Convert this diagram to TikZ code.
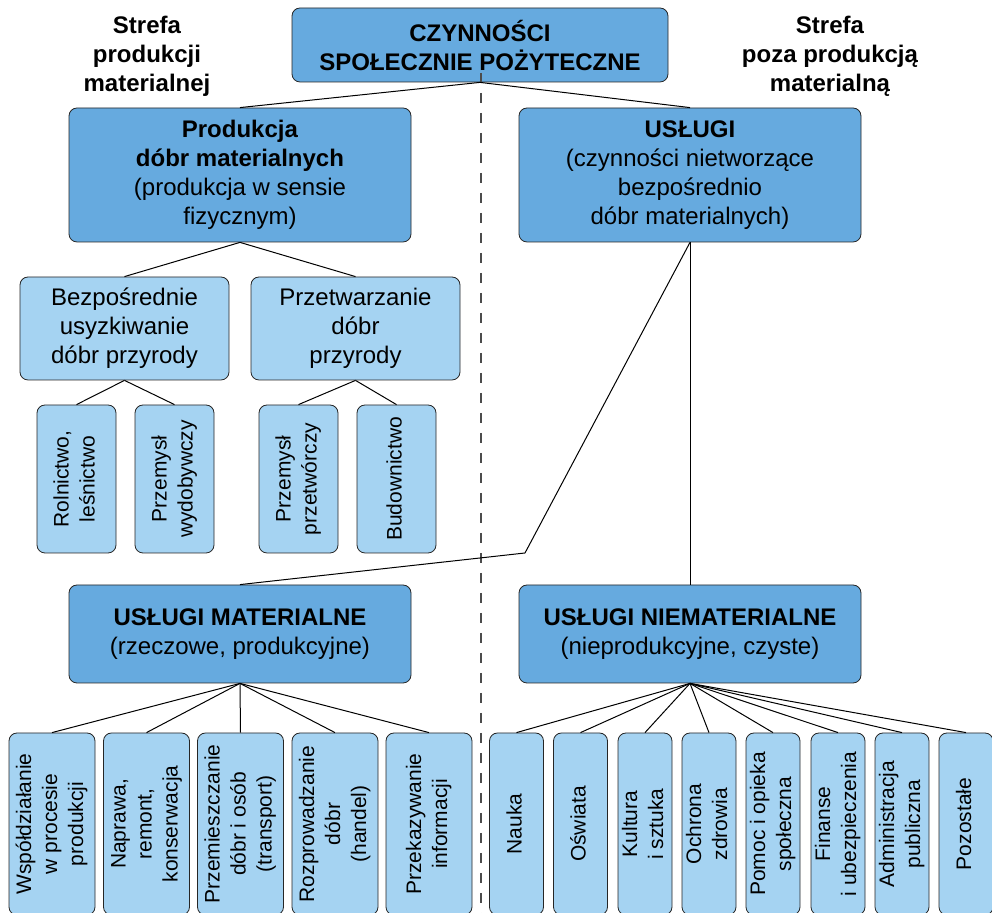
\documentclass[tikz,border=0pt]{standalone}
\usepackage{fontspec}
\setmainfont{Liberation Sans}
\usepackage{graphicx}
\usepackage{xcolor}
\usetikzlibrary{positioning}
\definecolor{darkblue}{HTML}{66AADF}
\definecolor{lightblue}{HTML}{A5D3F2}
\newcommand{\vlab}[1]{\rotatebox{90}{\fontsize{10.5}{13}\selectfont\begin{tabular}{@{}c@{}}#1\end{tabular}}}

\begin{document}
\begin{tikzpicture}[x=0.5pt, y=-0.5pt, every node/.style={font=\fontsize{12}{14.5}\selectfont}]
    % Define styles
    \tikzstyle{rootbox} = [rectangle, rounded corners=4pt, minimum width=188pt, minimum height=37pt, align=center, draw=black!85, fill=darkblue, inner sep=0pt, font=\fontsize{12}{14.5}\selectfont\bfseries]
    \tikzstyle{mainbox} = [rectangle, rounded corners=4pt, minimum width=171pt, minimum height=67pt, align=center, draw=black!85, fill=darkblue, inner sep=0pt]
    \tikzstyle{groupbox} = [rectangle, rounded corners=4pt, minimum width=104.5pt, minimum height=51.5pt, align=center, draw=black!85, fill=lightblue, inner sep=0pt]
    \tikzstyle{leafbox} = [rectangle, rounded corners=4pt, minimum width=39.5pt, minimum height=74pt, draw=black!85, fill=lightblue, inner sep=0pt]
    \tikzstyle{widebox} = [rectangle, rounded corners=4pt, minimum width=43pt, minimum height=91pt, draw=black!85, fill=lightblue, inner sep=0pt]
    \tikzstyle{thinbox} = [rectangle, rounded corners=4pt, minimum width=27pt, minimum height=91pt, draw=black!85, fill=lightblue, inner sep=0pt]
    \tikzstyle{zone} = [align=center, font=\fontsize{12}{14.5}\selectfont\bfseries]
    \tikzstyle{link} = [line width=0.5pt, black]
    \tikzstyle{border} = [line width=1pt, black!70, dash pattern=on 5pt off 5pt]

    \useasboundingbox (0, 0) rectangle (992, 913);

    % Zone labels
    \node (zoneprod) [zone] at (147, 56) {Strefa\\produkcji\\materialnej};
    \node (zonepoza) [zone] at (830, 56) {Strefa\\poza produkcją\\materialną};

    % Root
    \node (root) [rootbox] at (480, 45) {CZYNNOŚCI\\SPOŁECZNIE POŻYTECZNE};

    % Second level
    \node (prod) [mainbox] at (240, 175) {\textbf{Produkcja}\\\textbf{dóbr materialnych}\\(produkcja w sensie\\fizycznym)};
    \node (uslugi) [mainbox] at (690, 175) {\textbf{USŁUGI}\\(czynności nietworzące\\bezpośrednio\\dóbr materialnych)};

    % Material production branches
    \node (bezp) [groupbox] at (124.5, 328.5) {Bezpośrednie\\usyzkiwanie\\dóbr przyrody};
    \node (przetw) [groupbox] at (355.5, 328.5) {Przetwarzanie\\dóbr\\przyrody};

    \node (rolnictwo) [leafbox] at (76.5, 479) {\vlab{Rolnictwo,\\leśnictwo}};
    \node (wydob) [leafbox] at (174.5, 479) {\vlab{Przemysł\\wydobywczy}};
    \node (przetworczy) [leafbox] at (298.5, 479) {\vlab{Przemysł\\przetwórczy}};
    \node (budownictwo) [leafbox] at (396.5, 479) {\vlab{Budownictwo}};

    % Services
    \node (mat) [mainbox, minimum height=49pt] at (240, 634) {\textbf{USŁUGI MATERIALNE}\\(rzeczowe, produkcyjne)};
    \node (niemat) [mainbox, minimum height=49pt] at (690, 634) {\textbf{USŁUGI NIEMATERIALNE}\\(nieprodukcyjne, czyste)};

    % Material services
    \node (wspol) [widebox] at (52, 824) {\vlab{Współdziałanie\\w procesie\\produkcji}};
    \node (naprawa) [widebox] at (146.5, 824) {\vlab{Naprawa,\\remont,\\konserwacja}};
    \node (transport) [widebox] at (240.5, 824) {\vlab{Przemieszczanie\\dóbr i osób\\(transport)}};
    \node (handel) [widebox] at (335, 824) {\vlab{Rozprowadzanie\\dóbr\\(handel)}};
    \node (inform) [widebox] at (429, 824) {\vlab{Przekazywanie\\informacji}};

    % Non-material services
    \node (nauka) [thinbox] at (516.5, 824) {\vlab{Nauka}};
    \node (oswiata) [thinbox] at (580.5, 824) {\vlab{Oświata}};
    \node (kultura) [thinbox] at (645, 824) {\vlab{Kultura\\i sztuka}};
    \node (zdrowie) [thinbox] at (709, 824) {\vlab{Ochrona\\zdrowia}};
    \node (pomoc) [thinbox] at (773, 824) {\vlab{Pomoc i opieka\\społeczna}};
    \node (finanse) [thinbox] at (838, 824) {\vlab{Finanse\\i ubezpieczenia}};
    \node (admin) [thinbox] at (902, 824) {\vlab{Administracja\\publiczna}};
    \node (inne) [thinbox] at (966, 824) {\vlab{Pozostałe}};

    % Helper points
    \coordinate (bend) at (525, 553);
    \coordinate (divtop) at (481, 73);
    \coordinate (divbot) at (481, 913);

    % Zone border
    \draw [border] (divtop) -- (divbot);

    % Tree connectors
    \draw [link] (root.south) -- (prod.north);
    \draw [link] (root.south) -- (uslugi.north);
    \draw [link] (prod.south) -- (bezp.north);
    \draw [link] (prod.south) -- (przetw.north);
    \draw [link] (bezp.south) -- (rolnictwo.north);
    \draw [link] (bezp.south) -- (wydob.north);
    \draw [link] (przetw.south) -- (przetworczy.north);
    \draw [link] (przetw.south) -- (budownictwo.north);
    \draw [link] (uslugi.south) -- (niemat.north);
    \draw [link] (uslugi.south) -- (bend) -- (mat.north);

    \draw [link] (mat.south) -- (wspol.north);
    \draw [link] (mat.south) -- (naprawa.north);
    \draw [link] (mat.south) -- (transport.north);
    \draw [link] (mat.south) -- (handel.north);
    \draw [link] (mat.south) -- (inform.north);

    \draw [link] (niemat.south) -- (nauka.north);
    \draw [link] (niemat.south) -- (oswiata.north);
    \draw [link] (niemat.south) -- (kultura.north);
    \draw [link] (niemat.south) -- (zdrowie.north);
    \draw [link] (niemat.south) -- (pomoc.north);
    \draw [link] (niemat.south) -- (finanse.north);
    \draw [link] (niemat.south) -- (admin.north);
    \draw [link] (niemat.south) -- (inne.north);
\end{tikzpicture}
\end{document}
